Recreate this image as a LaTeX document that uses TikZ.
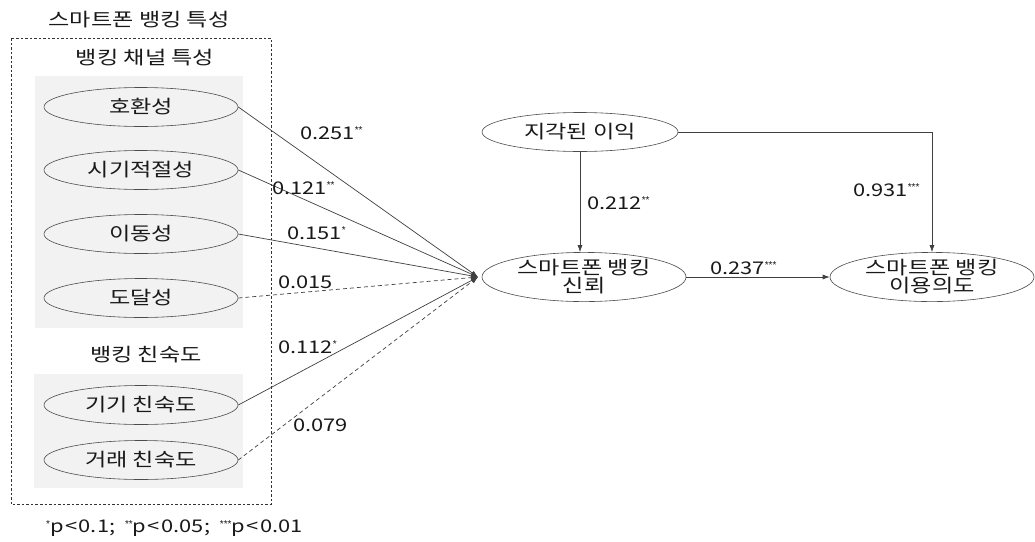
\documentclass[tikz,border=0pt]{standalone}
\usepackage{fontspec}
\setmainfont{Noto Sans CJK KR}[FakeStretch=1.25]
\newfontfamily\starfont{Liberation Sans}
\usetikzlibrary{shapes.geometric,arrows.meta}
\newcommand{\sig}[1]{\raisebox{0.3em}{\starfont\fontsize{10pt}{10pt}\selectfont #1}}
\begin{document}
\begin{tikzpicture}[x=1pt,y=-1pt,
  every node/.style={font=\fontsize{18.5pt}{21pt}\selectfont, text=black!90},
  lat/.style={ellipse, draw=black!70, line width=0.6pt, minimum width=194pt, minimum height=39pt, inner sep=0pt},
  big/.style={ellipse, draw=black!70, line width=0.6pt, fill=white, minimum width=204pt, minimum height=46pt, inner sep=0pt, align=center},
  panel/.style={fill=black!5},
  path/.style={draw=black!75, line width=0.7pt},
  npath/.style={draw=black!75, line width=0.7pt, dash pattern=on 4pt off 3pt},
  tip/.style={-{Latex[length=7pt,width=5pt]}},
  coef/.style={anchor=west, inner sep=0pt, font=\fontsize{17.5pt}{21pt}\selectfont},
  ttl/.style={inner sep=0pt}
]
\useasboundingbox[fill=white] (0,0) rectangle (1035,541);
% panels
\fill[panel] (35,76) rectangle (243,328);
\fill[panel] (34,374) rectangle (243,488);
\draw[black!80, line width=0.6pt, dash pattern=on 2.5pt off 2pt] (11,38) rectangle (271,504);
% titles
\node[ttl] (t1) at (139,20) {스마트폰 뱅킹 특성};
\node[ttl] (t2) at (145,58) {뱅킹 채널 특성};
\node[ttl] (t3) at (146,355) {뱅킹 친숙도};
% left ellipses
\node[lat] (a1) at (141,107) {호환성};
\node[lat] (a2) at (141,170) {시기적절성};
\node[lat] (a3) at (141,234) {이동성};
\node[lat] (a4) at (141,298) {도달성};
\node[lat] (b1) at (141,405) {기기 친숙도};
\node[lat] (b2) at (141,460) {거래 친숙도};
% right ellipses
\node[big, minimum width=196pt, minimum height=39pt] (pb) at (580,132) {지각된 이익};
\node[big] (tr) at (584,277) {스마트폰 뱅킹\\[-3pt]신뢰};
\node[big] (iu) at (932,277) {스마트폰 뱅킹\\[-3pt]이용의도};
\coordinate (J) at (478,277);
% connectors into trust
\draw[path,tip] (a1.east) -- (J);
\draw[path,tip] (a2.east) -- (J);
\draw[path,tip] (a3.east) -- (J);
\draw[npath,tip] (a4.east) -- (J);
\draw[path,tip] (b1.east) -- (J);
\draw[npath,tip] (b2.east) -- (J);
% right connectors
\draw[path,tip] (pb.south) -- (pb.south |- tr.north);
\draw[path,tip] (pb.east) -| (iu.north);
\draw[path,tip] (tr.east) -- (iu.west);
% coefficients
\node[coef] (c1) at (300,133) {0.251\sig{**}};
\node[coef] (c2) at (272,188) {0.121\sig{**}};
\node[coef] (c3) at (287,233) {0.151\sig{*}};
\node[coef] (c4) at (278,282) {0.015};
\node[coef] (c5) at (278,347) {0.112\sig{*}};
\node[coef] (c6) at (293,425) {0.079};
\node[coef] (c7) at (587,203) {0.212\sig{**}};
\node[coef] (c8) at (853,190) {0.931\sig{***}};
\node[coef] (c9) at (710,268) {0.237\sig{***}};
% footnote
\node[coef] (fn) at (46,528) {\sig{*}p{\kern1.5pt}<{\kern1.5pt}0.1;\ \ \sig{**}p{\kern1.5pt}<{\kern1.5pt}0.05;\ \ \sig{***}p{\kern1.5pt}<{\kern1.5pt}0.01};
\end{tikzpicture}
\end{document}
